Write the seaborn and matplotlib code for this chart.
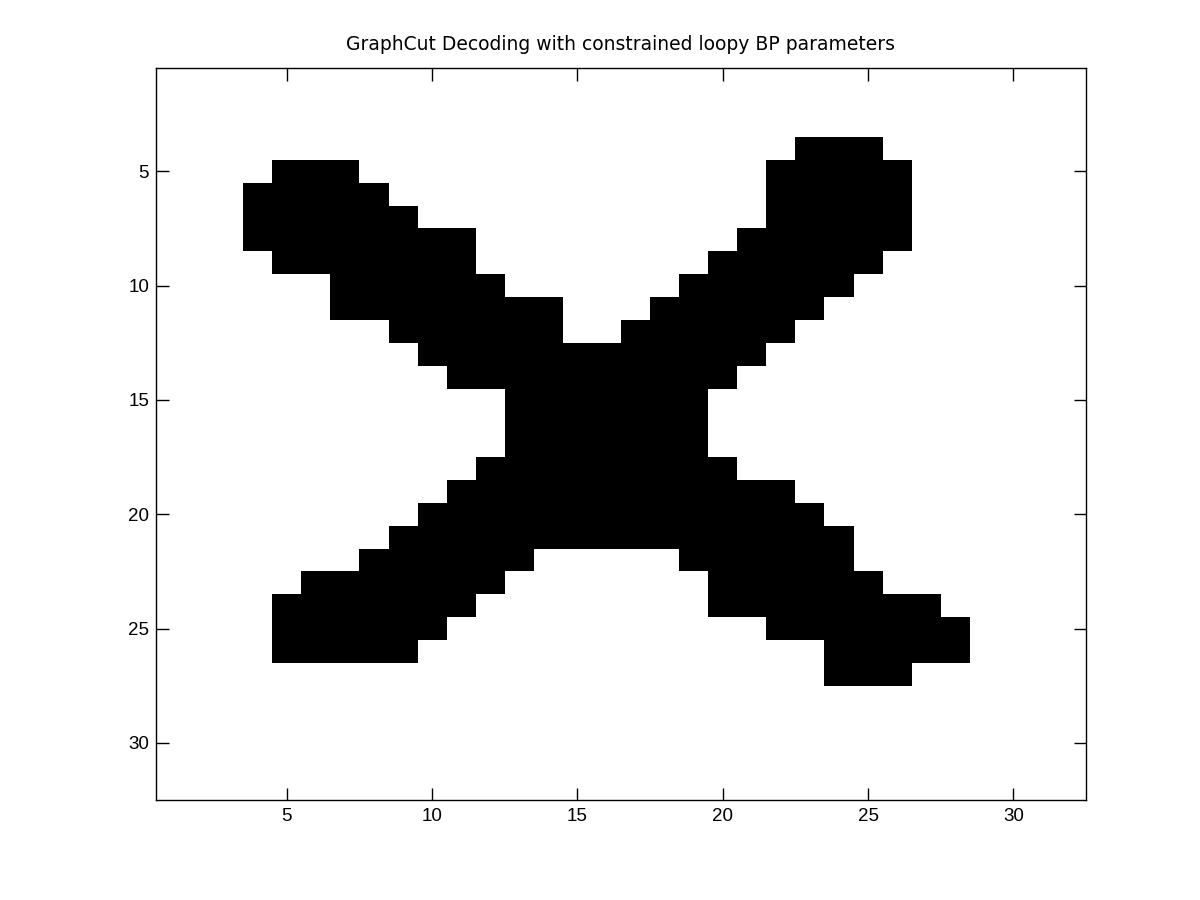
import matplotlib
matplotlib.use("Agg")
import matplotlib.pyplot as plt
import numpy as np
import seaborn as sns

# Decoded 32x32 binary image, stored as runs of "on" pixels (1-indexed)
n_rows = 32
n_cols = 32
run_row = [4, 5, 5, 6, 6, 7, 7, 8, 8, 9, 9, 10, 10, 11, 11, 12, 12,
           13, 14, 15, 16, 17, 18, 19, 20, 21,
           22, 22, 23, 23, 24, 24, 25, 25, 26, 26, 27]
run_first = [23, 5, 22, 4, 22, 4, 22, 4, 21, 5, 20, 7, 19, 7, 18, 9, 17,
             10, 11, 13, 13, 13, 12, 11, 10, 9,
             8, 19, 6, 20, 5, 20, 5, 22, 5, 24, 24]
run_last = [25, 7, 26, 8, 26, 9, 26, 11, 26, 11, 25, 12, 24, 14, 23, 14, 22,
            21, 20, 19, 19, 19, 20, 22, 23, 24,
            13, 24, 12, 25, 11, 27, 10, 28, 9, 28, 26]
tick_values = [5, 10, 15, 20, 25, 30]
title = "GraphCut Decoding with constrained loopy BP parameters"

img = np.zeros((n_rows, n_cols))
for r, a, b in zip(run_row, run_first, run_last):
    img[r - 1, a - 1:b] = 1

sns.set_style("white")
plt.rcParams["font.family"] = ["Liberation Sans", "DejaVu Sans"]

fig = plt.figure(figsize=(12, 9), dpi=100)
ax = fig.add_axes([0.13, 0.111, 0.775, 0.813])
sns.heatmap(img, cmap="gray_r", vmin=0, vmax=1, cbar=False, ax=ax,
            xticklabels=False, yticklabels=False)

# ticks on every side, pointing inwards, drawn above the image
ax.set_axisbelow(False)
pos = [t - 0.5 for t in tick_values]
ax.set_xticks(pos)
ax.set_xticklabels([str(t) for t in tick_values], fontsize=13.5)
ax.set_yticks(pos)
ax.set_yticklabels([str(t) for t in tick_values], fontsize=13.5, rotation=0)
ax.tick_params(direction="in", length=9, width=1, color="black",
               labelcolor="black",
               bottom=True, left=True, top=True, right=True,
               labeltop=False, labelright=False)
ax.tick_params(axis="x", pad=6)
ax.tick_params(axis="y", pad=5)
for s in ax.spines.values():
    s.set_visible(True)
    s.set_color("black")
    s.set_linewidth(1)
ax.set_title(title, fontsize=13.5, pad=13, color="black",
             family=["DejaVu Sans"])

fig.savefig("out.png", dpi=100, facecolor="white")
